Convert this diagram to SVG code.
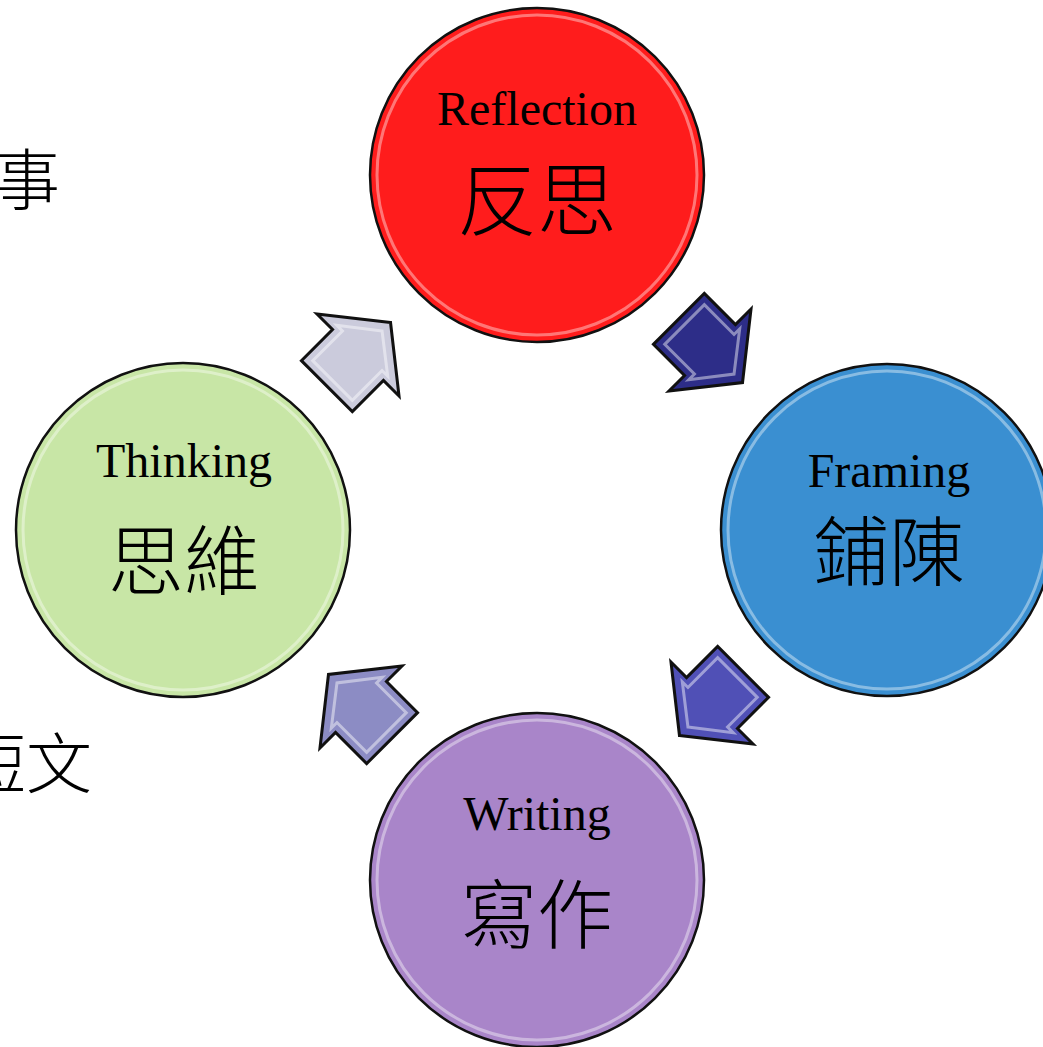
<svg xmlns="http://www.w3.org/2000/svg" width="1043" height="1047" viewBox="0 0 1043 1047">
<defs>
<style>
.circ{stroke:#111;stroke-width:2.5}
.gloss{fill:none;stroke:#fff;stroke-width:3;stroke-opacity:0.4}
.arrow{stroke:#111;stroke-width:3;stroke-linejoin:miter}
.bevel{fill:none;stroke:#fff;stroke-width:3;stroke-opacity:0.45;stroke-linejoin:miter}
.en{font-family:"Liberation Serif","Times New Roman",serif;font-size:48px;text-anchor:middle;fill:#000}
.zh{font-family:"Noto Sans CJK TC","Noto Sans CJK SC",sans-serif;font-weight:300;font-size:76px;text-anchor:middle;fill:#000}
.side{font-family:"Noto Sans CJK TC","Noto Sans CJK SC",sans-serif;font-weight:300;font-size:66px;fill:#000}
</style>
<path id="arr" d="M46,0 L0,-58 L0,-36 L-44,-36 L-44,36 L0,36 L0,58 Z"/>
<path id="arrIn" d="M34,0 L6,-36 L6,-28 L-36,-28 L-36,28 L6,28 L6,36 Z"/>
</defs>
<rect width="1043" height="1047" fill="#fff"/>
<text class="side" x="-6" y="204">事</text>
<text class="side" x="-40" y="788">短文</text>
<g id="connectors">
<g id="arrow-thinking-reflection" transform="translate(358,355) rotate(-45)">
<use href="#arr" class="arrow" fill="#cbcbdc"/>
<use href="#arrIn" class="bevel"/>
</g>
<g id="arrow-reflection-framing" transform="translate(710,350) rotate(45)">
<use href="#arr" class="arrow" fill="#2d2d88"/>
<use href="#arrIn" class="bevel"/>
</g>
<g id="arrow-framing-writing" transform="translate(712,703) rotate(135)">
<use href="#arr" class="arrow" fill="#5050b6"/>
<use href="#arrIn" class="bevel"/>
</g>
<g id="arrow-writing-thinking" transform="translate(361,707) rotate(-135)">
<use href="#arr" class="arrow" fill="#8c8cc4"/>
<use href="#arrIn" class="bevel"/>
</g>
</g>
<g id="node-reflection">
<circle class="circ" cx="537" cy="175" r="167" fill="#ff1c1c"/>
<circle class="gloss" cx="537" cy="175" r="160"/>
<text class="en" x="537" y="125">Reflection</text>
<text class="zh" x="537" y="229" style="font-size:80px">反思</text>
</g>
<g id="node-framing">
<circle class="circ" cx="887" cy="530" r="166" fill="#3a8fd1"/>
<circle class="gloss" cx="887" cy="530" r="159"/>
<text class="en" x="889" y="487">Framing</text>
<text class="zh" x="889" y="580">鋪陳</text>
</g>
<g id="node-thinking">
<circle class="circ" cx="183" cy="530" r="167" fill="#c8e6a6"/>
<circle class="gloss" cx="183" cy="530" r="160"/>
<text class="en" x="184" y="477">Thinking</text>
<text class="zh" x="184" y="589">思維</text>
</g>
<g id="node-writing">
<circle class="circ" cx="537" cy="880" r="167" fill="#a985c9"/>
<circle class="gloss" cx="537" cy="880" r="160"/>
<text class="en" x="537" y="830">Writing</text>
<text class="zh" x="537" y="943">寫作</text>
</g>
</svg>
